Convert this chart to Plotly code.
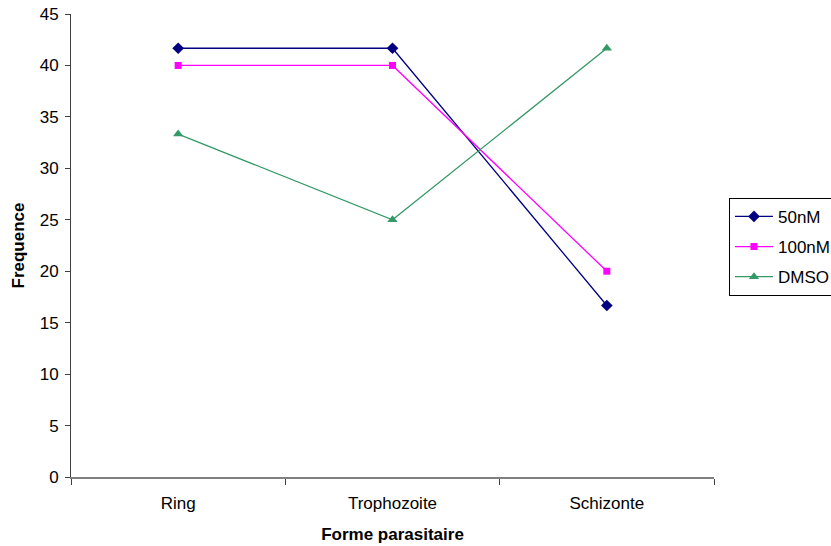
import plotly.graph_objects as go

# Parasite stage categories and frequency per treatment
stages = ["Ring", "Trophozoite", "Schizonte"]
freq_50nM = [41.67, 41.67, 16.67]
freq_100nM = [40.0, 40.0, 20.0]
freq_dmso = [33.33, 25.0, 41.67]

y_ticks = [0, 5, 10, 15, 20, 25, 30, 35, 40, 45]

series = [
    ("50nM", freq_50nM, "#000080", "diamond", 9),
    ("100nM", freq_100nM, "#FF00FF", "square", 7),
    ("DMSO", freq_dmso, "#339966", "triangle-up", 9),
]

fig = go.Figure()
for i, (name, vals, color, symbol, size) in enumerate(series):
    fig.add_trace(go.Scatter(
        x=stages, y=vals, name=name, mode="lines+markers",
        line=dict(color=color, width=1.3),
        marker=dict(symbol=symbol, size=size, color=color),
        legendgroup=f"g{i}",
    ))

fig.update_layout(
    width=831, height=546,
    margin=dict(l=71, r=117, t=14, b=69, autoexpand=False),
    plot_bgcolor="white", paper_bgcolor="white",
    font=dict(family="Liberation Sans, Arial, sans-serif", size=17, color="black"),
    showlegend=True,
    legend=dict(
        x=1.0233, y=0.497, xanchor="left", yanchor="middle",
        bordercolor="black", borderwidth=1, bgcolor="white",
        font=dict(size=17), tracegroupgap=5,
        itemwidth=38, entrywidth=110, entrywidthmode="pixels",
    ),
    xaxis=dict(
        type="category", tickson="boundaries", range=[-0.5, 2.5],
        showline=True, linecolor="#808080", linewidth=1.5,
        ticks="outside", ticklen=6, tickcolor="#404040",
        showgrid=False, zeroline=False, ticklabelstandoff=10,
        automargin=False,
        title=dict(text="<b>Forme parasitaire</b>", standoff=16, font=dict(size=17)),
        tickfont=dict(size=17),
    ),
    yaxis=dict(
        range=[0, 45], tickvals=y_ticks,
        showline=True, linecolor="#404040", linewidth=1,
        ticks="outside", ticklen=5, tickcolor="#404040",
        showgrid=False, zeroline=False, ticklabelstandoff=3,
        automargin=False,
        title=dict(text="<b>Frequence</b>", standoff=10, font=dict(size=17)),
        tickfont=dict(size=17),
    ),
)

fig.write_html("out.html")
